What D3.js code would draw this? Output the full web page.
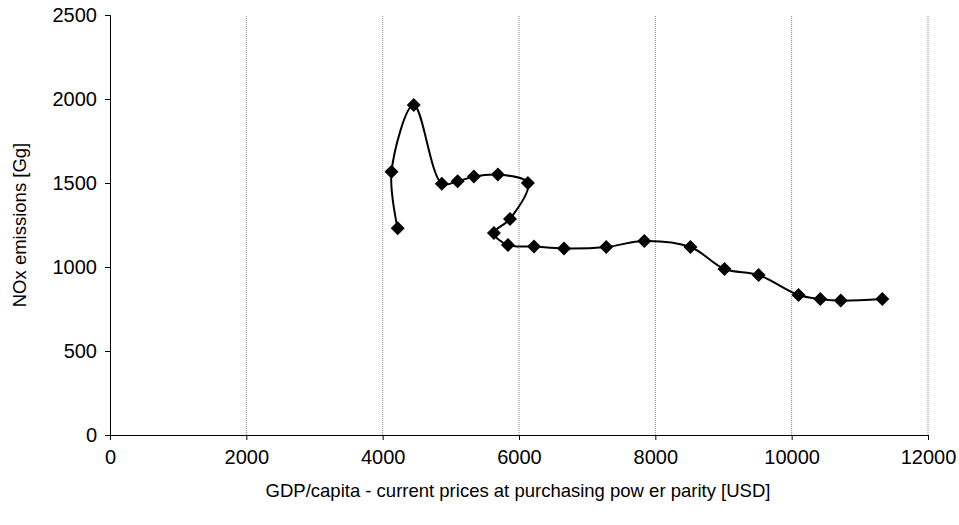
<!DOCTYPE html>
<html><head><meta charset="utf-8">
<script src="https://cdn.jsdelivr.net/npm/d3@7"></script>
<style>body{margin:0;background:#fff}text{font-family:"Liberation Sans",Arial,sans-serif}</style>
</head><body><div id="container"></div>
<script>
const gdp = [4220, 4130, 4456, 4868, 5100, 5338, 5690, 6130, 5868, 5632, 5838, 6220, 6660, 7280, 7838, 8515, 9015, 9515, 10100, 10420, 10720, 11330];
const nox = [1230, 1567, 1964, 1496, 1510, 1538, 1550, 1500, 1286, 1202, 1131, 1122, 1110, 1119, 1155, 1119, 988, 952, 833, 810, 800, 810];
const xTicks = [0, 2000, 4000, 6000, 8000, 10000, 12000];
const yTicks = [0, 500, 1000, 1500, 2000, 2500];

const width = 959, height = 525;
const svg = d3.select("#container").append("svg").attr("width", width).attr("height", height);
const x = d3.scaleLinear().domain([0, 12000]).range([110, 928]);
const y = d3.scaleLinear().domain([0, 2500]).range([435, 15]);

// grid
svg.append("g").selectAll("line").data(xTicks.slice(1)).enter().append("line")
  .attr("x1", d => x(d)).attr("x2", d => x(d)).attr("y1", y(0)).attr("y2", y(2500))
  .attr("stroke", "#888").attr("stroke-dasharray", "1,1");

const xAxis = svg.append("g").attr("transform", `translate(0,${y(0)})`)
  .call(d3.axisBottom(x).tickValues(xTicks).tickSize(5).tickPadding(10).tickFormat(d3.format("d")));
const yAxis = svg.append("g").attr("transform", `translate(${x(0)},0)`)
  .call(d3.axisLeft(y).tickValues(yTicks).tickSize(5).tickPadding(8).tickFormat(d3.format("d")));
[xAxis, yAxis].forEach(a => {
  a.select(".domain").attr("stroke", "#000");
  a.selectAll("text").style("font-size", "20px").attr("fill", "#000");
});

const pts = gdp.map((d, i) => [d, nox[i]]);
svg.append("path").datum(pts)
  .attr("d", d3.line().x(d => x(d[0])).y(d => y(d[1])).curve(d3.curveCatmullRom.alpha(0.5)))
  .attr("fill", "none").attr("stroke", "#000").attr("stroke-width", 2);
svg.selectAll(".pt").data(pts).enter().append("path").attr("class", "pt")
  .attr("transform", d => `translate(${x(d[0])},${y(d[1])})`)
  .attr("d", "M0,-7L7,0L0,7L-7,0Z").attr("fill", "#000");

svg.append("text").attr("x", 518).attr("y", 497).attr("text-anchor", "middle")
  .style("font-size", "18.5px").text("GDP/capita - current prices at purchasing pow er parity [USD]");
svg.append("text").attr("transform", `translate(26,${y(1250)}) rotate(-90)`).attr("text-anchor", "middle")
  .style("font-size", "18.5px").text("NOx emissions [Gg]");
</script></body></html>
